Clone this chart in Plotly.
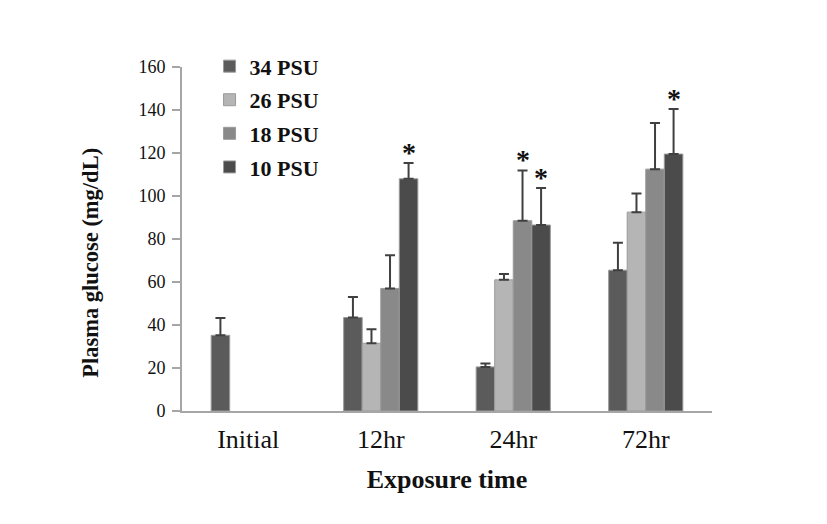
import plotly.graph_objects as go

categories = ["Initial", "12hr", "24hr", "72hr"]
series_names = ["34 PSU", "26 PSU", "18 PSU", "10 PSU"]
values = {
    "34 PSU": [35.2, 43.5, 20.5, 65.5],
    "26 PSU": [None, 31.5, 61.0, 92.5],
    "18 PSU": [None, 57.0, 88.5, 112.5],
    "10 PSU": [None, 108.0, 86.5, 119.5],
}
errors = {
    "34 PSU": [8.0, 9.5, 1.6, 12.8],
    "26 PSU": [0, 6.5, 2.7, 8.7],
    "18 PSU": [0, 15.4, 23.4, 21.4],
    "10 PSU": [0, 7.4, 17.2, 21.0],
}
colors = {"34 PSU": "#5b5b5b", "26 PSU": "#b5b5b5", "18 PSU": "#898989", "10 PSU": "#4b4b4b"}
# significance markers: (series, category)
stars = [("10 PSU", "12hr"), ("18 PSU", "24hr"), ("10 PSU", "24hr"), ("10 PSU", "72hr")]
y_ticks = [0, 20, 40, 60, 80, 100, 120, 140, 160]

FONT = "Liberation Serif"
TXT = "#111111"

fig = go.Figure()
for name in series_names:
    fig.add_trace(go.Bar(
        name="<b>" + name + "</b>", x=categories, y=values[name],
        marker=dict(color=colors[name], line=dict(color="#9a9a9a", width=1)),
        error_y=dict(type="data", array=errors[name], arrayminus=[0] * 4, symmetric=False,
                     color="#404040", thickness=2, width=5, visible=True),
        legendgroup=name,
    ))

# page body has an 8px margin, so margins are offset accordingly
L, T = 174, 59
PW, PH = 530, 344
R, B = 827 - L - PW, 524 - T - PH
bar_w = PW / len(categories) * (1 - 0.44) / 4
annotations = []
for s, c in stars:
    k = series_names.index(s)
    ci = categories.index(c)
    top = values[s][ci] + errors[s][ci]
    annotations.append(dict(
        x=c, y=top, xref="x", yref="y", text="<b>*</b>", showarrow=False,
        xshift=(k - 1.5) * bar_w, yanchor="bottom", yshift=-7,
        font=dict(family=FONT, size=28, color=TXT),
    ))
# y-axis title (placed slightly below the plot's vertical centre, as in the original)
annotations.append(dict(
    x=-0.174, y=0.43, xref="paper", yref="paper", text="<b>Plasma glucose (mg/dL)</b>",
    textangle=-90, showarrow=False, xanchor="center", yanchor="middle",
    font=dict(family=FONT, size=22.5, color=TXT),
))

fig.update_layout(
    width=827, height=524,
    margin=dict(l=L, r=R, t=T, b=B, autoexpand=False),
    paper_bgcolor="white", plot_bgcolor="white",
    barmode="group", bargap=0.44, bargroupgap=0,
    font=dict(family=FONT, size=18, color=TXT),
    legend=dict(x=0.052, y=1.063, xanchor="left", yanchor="top",
                font=dict(family=FONT, size=22, color=TXT),
                traceorder="grouped", tracegroupgap=2, bgcolor="rgba(0,0,0,0)",
                itemwidth=30),
    annotations=annotations,
    showlegend=True,
)
fig.update_xaxes(
    showline=True, linecolor="#a6a6a6", linewidth=2, ticks="", showgrid=False,
    tickfont=dict(family=FONT, size=26, color=TXT), ticklabelstandoff=4,
    title=dict(text="<b>Exposure time</b>", font=dict(family=FONT, size=26, color=TXT), standoff=17),
)
fig.update_yaxes(
    range=[0, 160], tickvals=y_ticks, showline=True, linecolor="#a6a6a6", linewidth=2,
    ticks="outside", ticklen=8, tickcolor="#a6a6a6", tickwidth=1.5, showgrid=False,
    zeroline=False, ticklabelstandoff=3,
    tickfont=dict(family=FONT, size=18, color=TXT),
)

fig.write_html("out.html")
